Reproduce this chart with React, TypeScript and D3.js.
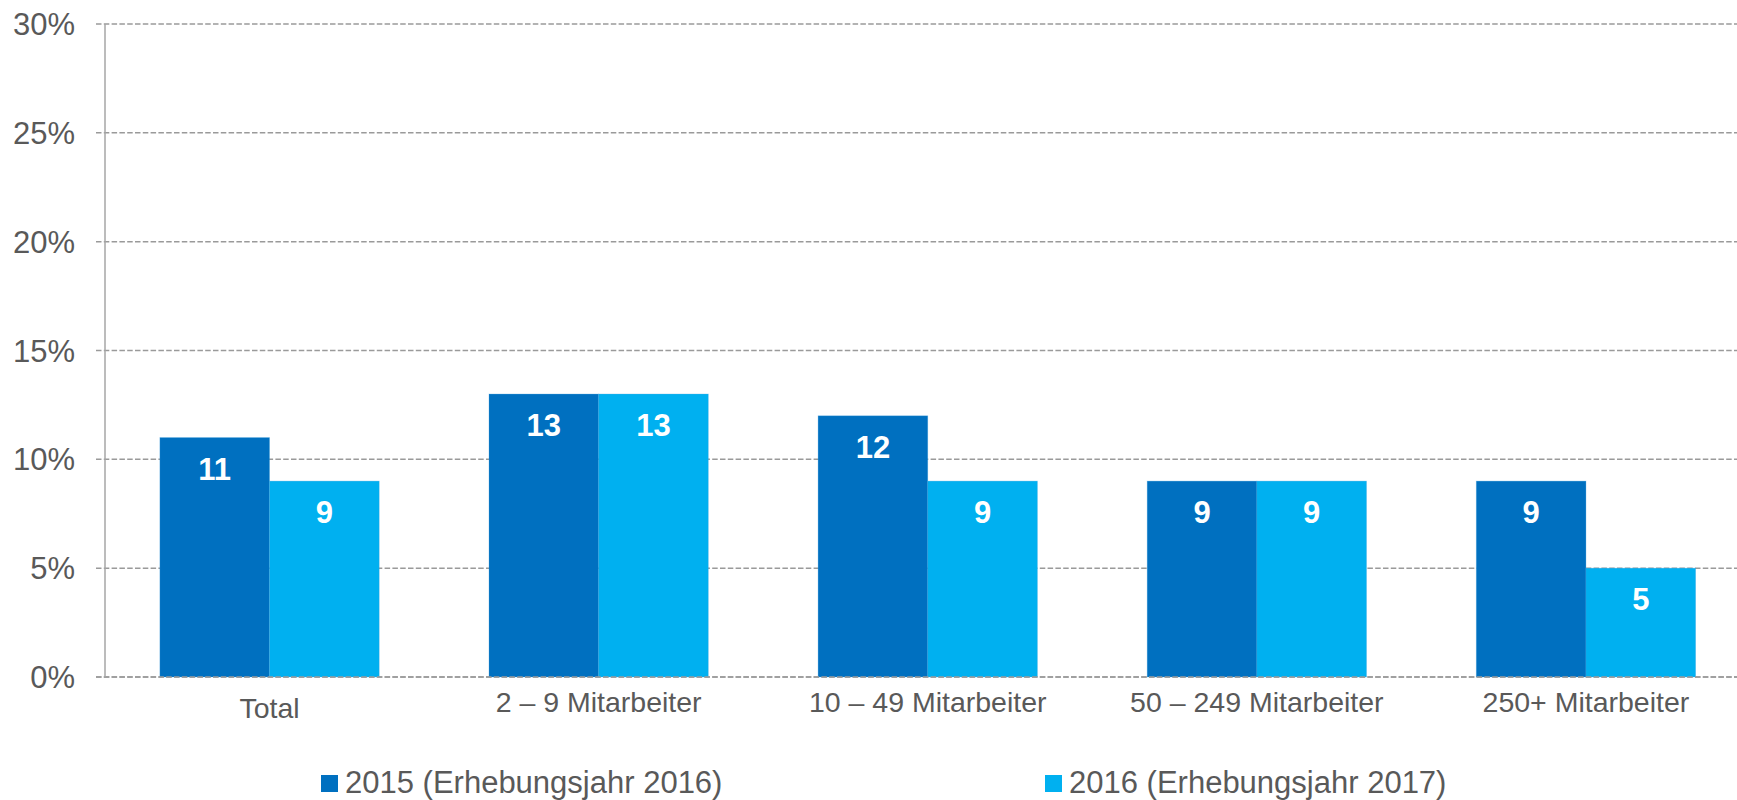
import React from "react";
import * as d3 from "d3";

const categories = ["Total", "2 – 9 Mitarbeiter", "10 – 49 Mitarbeiter", "50 – 249 Mitarbeiter", "250+ Mitarbeiter"];
const seriesNames = ["2015 (Erhebungsjahr 2016)", "2016 (Erhebungsjahr 2017)"];
const values2015 = [11, 13, 12, 9, 9];
const values2016 = [9, 13, 9, 9, 5];
const yTicks = [0, 5, 10, 15, 20, 25, 30];
const colors = ["#0070C0", "#00B0F0"];

const W = 1737;
const H = 800;
const left = 105;
const top = 24;
const bottom = 677;
const textColor = "#595959";
const font = "Liberation Sans, Arial, sans-serif";

export default function App() {
  const x = d3.scaleBand<string>().domain(categories).range([left, 1750.5]).paddingInner(0.3336).paddingOuter(0.1668);
  const xs = d3.scaleBand<number>().domain([0, 1]).range([0, x.bandwidth()]);
  const y = d3.scaleLinear().domain([0, 30]).range([bottom, top]);
  const series = [values2015, values2016];

  return (
    <svg width={W} height={H} style={{ position: "absolute", left: 0, top: 0, background: "#fff" }} fontFamily={font}>
      {yTicks.map((t) => (
        <line key={"g" + t} x1={96} x2={W} y1={y(t)} y2={y(t)} stroke="#9a9a9a" strokeWidth={1.5} strokeDasharray="5.5,2.3" />
      ))}
      {categories.map((c, i) => (
        <g key={c}>
          {series.map((s, j) => (
            <rect key={j} x={(x(c) as number) + (xs(j) as number)} y={y(s[i])} width={xs.bandwidth()} height={y(0) - y(s[i])} fill={colors[j]} stroke="#3fa0e0" strokeOpacity={0.35} strokeWidth={0.8} />
          ))}
          {series.map((s, j) => (
            <text key={"l" + j} x={(x(c) as number) + (xs(j) as number) + xs.bandwidth() / 2} y={y(s[i]) + 42} textAnchor="middle" fill="#fff" fontWeight="bold" fontSize={31}>
              {s[i]}
            </text>
          ))}
          <text x={(x(c) as number) + x.bandwidth() / 2} y={i === 0 ? 718 : 712} textAnchor="middle" fill={textColor} fontSize={28.5}>
            {c}
          </text>
        </g>
      ))}
      <line x1={96} x2={W} y1={y(0)} y2={y(0)} stroke="#9a9a9a" strokeWidth={1.5} strokeDasharray="5.5,2.3" />
      <line x1={left} x2={left} y1={top} y2={bottom} stroke="#a6a6a6" strokeWidth={1.5} />
      {yTicks.map((t) => (
        <text key={"t" + t} x={75} y={y(t)} dy="0.36em" textAnchor="end" fill={textColor} fontSize={31}>
          {t}%
        </text>
      ))}
      {seriesNames.map((n, j) => {
        const lx = j === 0 ? 321 : 1045;
        return (
          <g key={n}>
            <rect x={lx} y={775} width={17} height={17} fill={colors[j]} />
            <text x={lx + 24} y={792.5} fill={textColor} fontSize={31}>
              {n}
            </text>
          </g>
        );
      })}
    </svg>
  );
}
